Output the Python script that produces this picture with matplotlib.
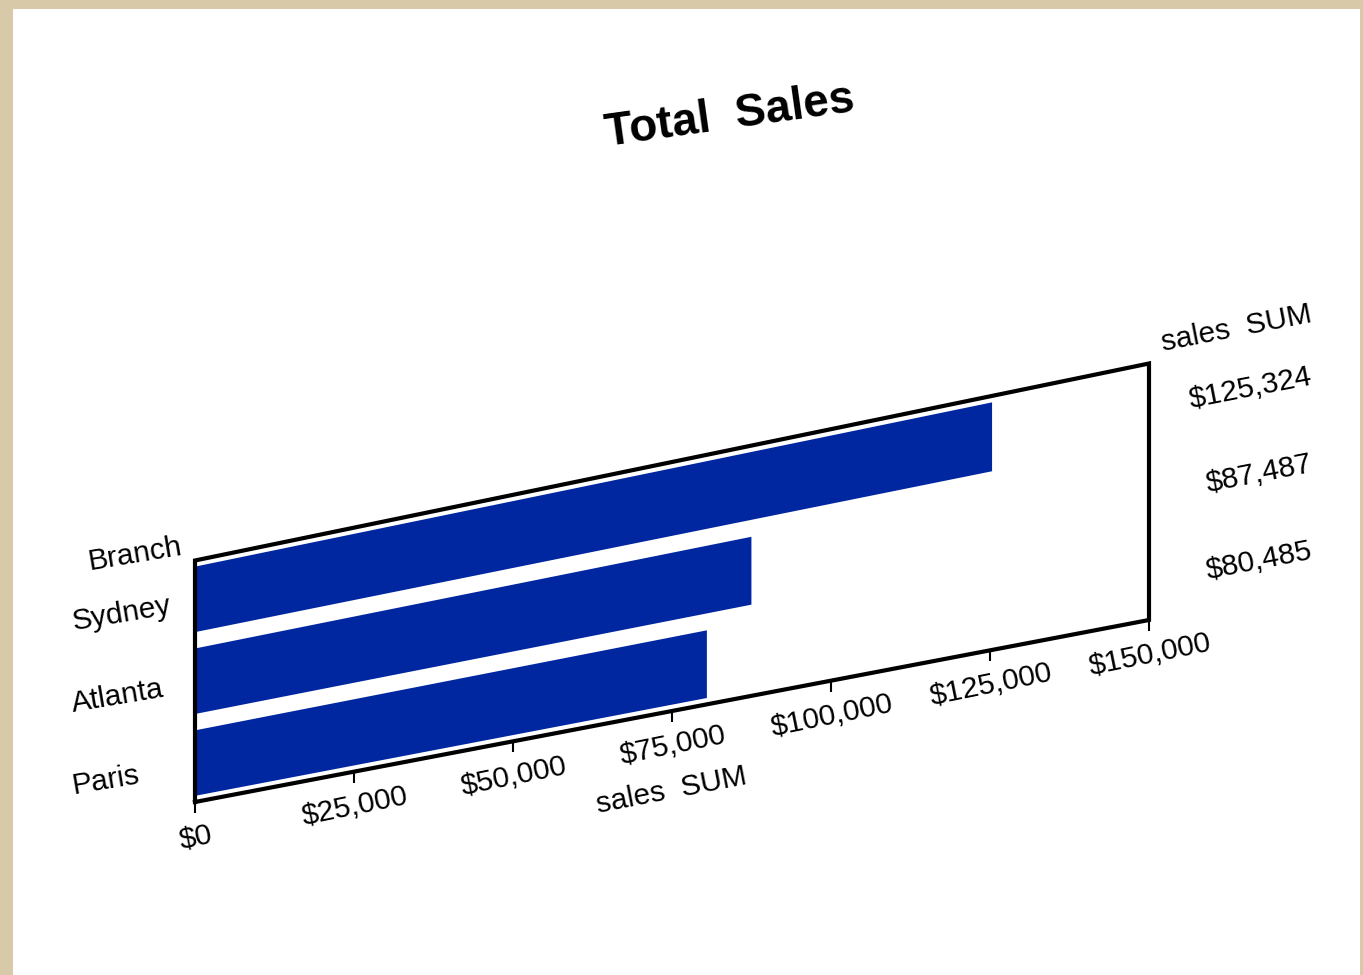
import numpy as np
import matplotlib
matplotlib.use("Agg")
import matplotlib.pyplot as plt
import matplotlib.transforms as mtransforms

plt.rcParams['font.family'] = ['Liberation Sans', 'DejaVu Sans']

# chart data
branches = ["Sydney", "Atlanta", "Paris"]
sales = [125324, 87487, 80485]
x_ticks = [0, 25000, 50000, 75000, 100000, 125000, 150000]
tick_labels = ["$0", "$25,000", "$50,000", "$75,000", "$100,000", "$125,000", "$150,000"]

W, H = 1363, 975
BAR_COLOR = "#0026A0"
FS = 21.5


class Skew(mtransforms.Transform):
    """bilinear map of the unit square onto the slanted frame (display px)"""
    input_dims = 2
    output_dims = 2
    is_separable = False
    has_inverse = False

    def __init__(self, x0, x1, ybl, ybr, ytl, ytr):
        super().__init__()
        self.x0, self.x1 = x0, x1
        self.ybl, self.ybr, self.ytl, self.ytr = ybl, ybr, ytl, ytr

    def transform_non_affine(self, values):
        pts = np.asarray(values, float).reshape(-1, 2)
        u, v = pts[:, 0], pts[:, 1]
        X = self.x0 + u * (self.x1 - self.x0)
        left = self.ybl + v * (self.ytl - self.ybl)
        right = self.ybr + v * (self.ytr - self.ybr)
        Y = left + u * (right - left)
        return np.column_stack([X, Y])


fig = plt.figure(figsize=(W / 100, H / 100), dpi=100, facecolor="#D8C9A8")
# white plotting area inside the beige border
ax = fig.add_axes([13 / W, 0, (1360 - 13) / W, (H - 9) / H])
ax.set_facecolor("white")
for s in ax.spines.values():
    s.set_visible(False)
ax.set_xticks([])
ax.set_yticks([])

n = len(branches)
ax.set_xlim(0, 150000)
ax.set_ylim(n - 0.525, -0.475)

skew = Skew(195, 1149, H - 802, H - 620, H - 560.5, H - 363.5)
tr = ax.transScale + ax.transLimits + skew

ypos = np.arange(n)
ax.barh(ypos, sales, height=0.8, color=BAR_COLOR, transform=tr, linewidth=0)

# frame
ax.plot([0, 1, 1, 0, 0], [0, 0, 1, 1, 0], transform=skew, color="black",
        lw=3, solid_joinstyle="miter", clip_on=False)

# tick marks and labels along the bottom
ybot = ax.get_ylim()[0]
ax.plot(x_ticks, [ybot] * len(x_ticks), ls="none", marker=3, ms=8, mew=1.5,
        color="black", transform=tr, clip_on=False)
lab_tr = mtransforms.offset_copy(tr, fig=fig, x=1, y=-35, units="dots")
for xv, lab in zip(x_ticks, tick_labels):
    ax.text(xv, ybot, lab, transform=lab_tr, ha="center", va="center",
            rotation=11.5, rotation_mode="anchor", fontsize=FS)
ax.text(75000, ybot, "sales  SUM",
        transform=mtransforms.offset_copy(tr, fig=fig, x=0, y=-80, units="dots"),
        ha="center", va="center", rotation=11, rotation_mode="anchor", fontsize=FS)

# category labels on the left
ytop = ax.get_ylim()[1]
cat_tr = mtransforms.offset_copy(tr, fig=fig, x=-123, y=-23, units="dots")
for yv, name in zip(ypos, branches):
    ax.text(0, yv, name, transform=cat_tr, ha="left", va="center",
            rotation=9.5, rotation_mode="anchor", fontsize=FS)
ax.text(0, ytop, "Branch",
        transform=mtransforms.offset_copy(tr, fig=fig, x=-107, y=-2, units="dots"),
        ha="left", va="center", rotation=9.5, rotation_mode="anchor", fontsize=FS)

# value labels on the right
val_tr = mtransforms.offset_copy(tr, fig=fig, x=163, y=28, units="dots")
for yv, v in zip(ypos, sales):
    ax.text(150000, yv, f"${v:,}", transform=val_tr, ha="right", va="center",
            rotation=11, rotation_mode="anchor", fontsize=FS)
ax.text(150000, ytop, "sales  SUM",
        transform=mtransforms.offset_copy(tr, fig=fig, x=163, y=50, units="dots"),
        ha="right", va="center", rotation=11, rotation_mode="anchor", fontsize=FS)

fig.text(730 / W, 1 - 117 / H, "Total  Sales", ha="center", va="center",
         rotation=8, fontsize=33, fontweight="bold")

fig.savefig("out.png", dpi=100, facecolor=fig.get_facecolor())
